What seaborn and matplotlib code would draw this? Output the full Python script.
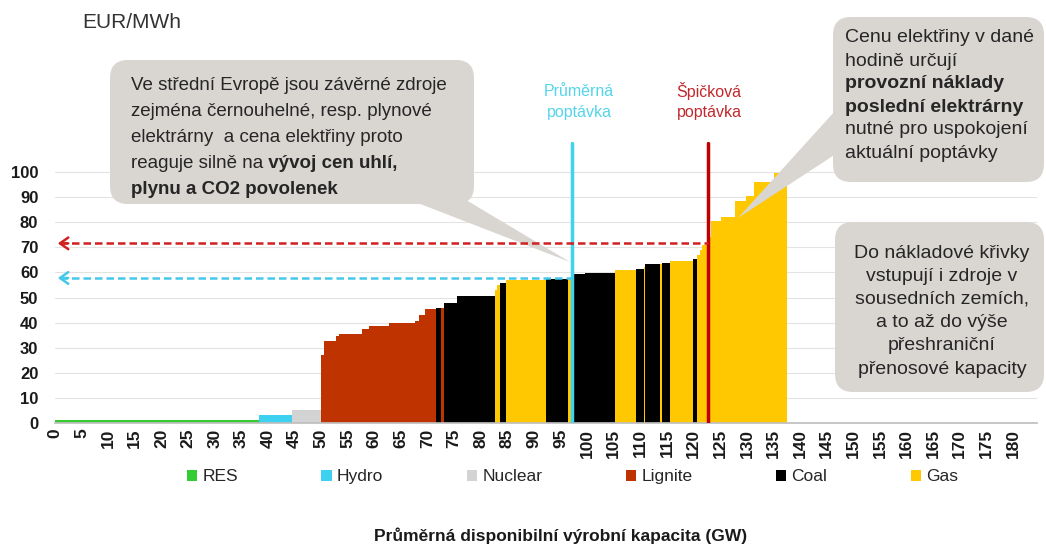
import numpy as np
import pandas as pd
import matplotlib
matplotlib.use("Agg")
import matplotlib.pyplot as plt
import seaborn as sns
from matplotlib import font_manager
from matplotlib.patches import FancyBboxPatch, Polygon
from matplotlib.transforms import Affine2D

# merit order blocks, GW end of block / EUR/MWh
fuels = ["RES", "Hydro", "Nuclear", "Lignite", "Coal", "Gas"]
fuel_colors = ["#33cc33", "#3dd0f0", "#d3d3d3", "#bf3300", "#000000", "#ffc800"]

block_fuel = ["RES", "Hydro", "Nuclear",
              "Lignite", "Lignite", "Lignite", "Lignite", "Lignite", "Lignite",
              "Lignite", "Lignite", "Lignite", "Lignite",
              "Coal", "Lignite", "Coal", "Coal", "Gas", "Gas", "Coal",
              "Gas", "Coal", "Gas", "Coal", "Coal",
              "Gas", "Coal", "Gas", "Coal", "Gas", "Coal", "Gas", "Coal",
              "Gas", "Gas", "Gas", "Gas", "Gas", "Gas", "Gas", "Gas", "Gas", "Gas"]
block_end = [38.3, 44.6, 50.0,
             50.6, 52.8, 53.4, 57.7, 59.0, 62.7,
             67.7, 68.4, 69.6, 71.5,
             72.6, 73.0, 75.5, 82.7, 83.1, 83.6, 84.8,
             92.3, 96.4, 96.9, 99.5, 105.3,
             109.2, 110.6, 110.9, 113.7, 114.0, 115.5, 119.9, 120.7,
             121.1, 121.5, 122.5, 123.3, 125.2, 127.7, 129.9, 131.4, 135.1, 137.6]
block_price = [1.0, 3.0, 5.0,
               27.0, 32.5, 34.5, 35.5, 37.5, 38.5,
               40.0, 40.8, 43.0, 45.3,
               45.7, 45.8, 47.8, 50.6, 53.0, 55.0, 55.7,
               57.0, 57.3, 57.8, 59.2, 59.8,
               61.0, 61.5, 62.3, 63.2, 63.4, 63.6, 64.5, 65.2,
               67.0, 69.0, 71.0, 74.0, 80.5, 82.0, 88.5, 90.5, 96.0, 99.5]

avg_demand, peak_demand = 97.2, 122.7
avg_price, peak_price = 57.8, 71.6

x_ticks = list(range(0, 181, 5))
y_ticks = list(range(0, 101, 10))

edges = [0.0] + block_end
df = pd.DataFrame({"mid": [(a + b) / 2 for a, b in zip(edges[:-1], edges[1:])],
                   "price": block_price,
                   "fuel": block_fuel})

sns.set_theme(style="white")
plt.rcParams["font.family"] = ["Liberation Sans", "DejaVu Sans"]
avail = {f.name for f in font_manager.fontManager.ttflist}
has_narrow = "Liberation Sans Narrow" in avail
NARROW = ["Liberation Sans Narrow", "Liberation Sans"] if has_narrow else ["Liberation Sans"]

W, H = 1046, 548
fig = plt.figure(figsize=(W / 100, H / 100), dpi=100)
ax = fig.add_axes([55 / W, 125 / H, 982 / W, 281 / H])
# pixel coords, origin top-left
T = Affine2D().scale(1, -1).translate(0, H)

sns.histplot(df, x="mid", weights="price", bins=edges, hue="fuel", hue_order=fuels,
             palette=dict(zip(fuels, fuel_colors)), multiple="layer",
             alpha=1, linewidth=0, ax=ax)

ax.set_xlim(0, 184.5)
ax.set_ylim(0, 112)
ax.set_xticks(x_ticks)
ax.set_xticklabels(x_ticks, rotation=90, fontweight="bold", fontsize=12.5, color="#1a1a1a")
ax.set_yticks(y_ticks)
ax.set_yticklabels(y_ticks, fontweight="bold", fontsize=12, color="#1a1a1a")
ax.tick_params(axis="x", length=0, pad=4)
ax.tick_params(axis="y", length=0, pad=12)
ax.set_xlabel("")
ax.set_ylabel("")
ax.yaxis.grid(True, color="#e3e3e3", lw=0.8)
ax.set_axisbelow(True)
for s in ["left", "top", "right"]:
    ax.spines[s].set_visible(False)
ax.spines["bottom"].set_color("#bfbfbf")

# demand lines and price arrows
ax.plot([avg_demand] * 2, [0, 111.5], color="#3fd3ef", lw=2.5, zorder=6)
ax.plot([peak_demand] * 2, [0, 111.5], color="#c00000", lw=2.5, zorder=6)
for xd, yp, c in [(avg_demand, avg_price, "#45c8ea"), (peak_demand, peak_price, "#d02020")]:
    ax.plot([1.0, xd], [yp, yp], color=c, lw=1.8, ls=(0, (3, 1.6)), zorder=6)
    ax.annotate("", xy=(0, yp), xytext=(3, yp),
                arrowprops=dict(arrowstyle="->,head_length=0.5,head_width=0.35", color=c, lw=1.8),
                annotation_clip=False, zorder=6)

sns.move_legend(ax, "center", bbox_to_anchor=(0.527, -0.192), ncol=6, title=None,
                frameon=False, fontsize=12.5, columnspacing=4.8, handlelength=0.6,
                handleheight=0.6, handletextpad=0.3)

# callouts
box_color = "#d9d6d2"
def box(x0, y0, x1, y1):
    ax.add_patch(FancyBboxPatch((x0, y0), x1 - x0, y1 - y0,
                                boxstyle="round,pad=0,rounding_size=18", transform=T,
                                fc=box_color, ec="none", clip_on=False, zorder=5))

def wedge(pts):
    ax.add_patch(Polygon(pts, closed=True, transform=T, fc=box_color, ec="none",
                         clip_on=False, zorder=5))

box(110, 60, 474, 204)
wedge([(410, 200), (466, 200), (570, 262)])
box(833, 17, 1044, 182)
wedge([(845, 100), (845, 148), (738, 218)])
box(835, 222, 1044, 392)

txt_c = "#262626"
lsize = 15.5 if has_narrow else 13.5
left_lines = ["Ve střední Evropě jsou závěrné zdroje",
              "zejména černouhelné, resp. plynové",
              "elektrárny  a cena elektřiny proto"]
ly = [86, 112, 138, 164, 189]
for s, y in zip(left_lines, ly):
    ax.text(131, y, s, transform=T, va="center", ha="left", fontsize=lsize,
            family=NARROW, color=txt_c, zorder=7)
t = ax.text(131, ly[3], "reaguje silně na", transform=T, va="center", ha="left",
            fontsize=lsize, family=NARROW, color=txt_c, zorder=7)
r = fig.canvas.get_renderer()
w = t.get_window_extent(renderer=r).width
ax.text(131 + w, ly[3], " vývoj cen uhlí,", transform=T, va="center", ha="left",
        fontsize=lsize, family=NARROW, fontweight="bold", color=txt_c, zorder=7)
ax.text(131, ly[4], "plynu a CO2 povolenek", transform=T, va="center", ha="left",
        fontsize=lsize, family=NARROW, fontweight="bold", color=txt_c, zorder=7)

right_lines = [("Cenu elektřiny v dané", "normal"), ("hodině určují", "normal"),
               ("provozní náklady", "bold"), ("poslední elektrárny", "bold"),
               ("nutné pro uspokojení", "normal"), ("aktuální poptávky", "normal")]
for i, (s, fw) in enumerate(right_lines):
    ax.text(845, 38 + 23 * i, s, transform=T, va="center", ha="left", fontsize=14,
            fontweight=fw, color=txt_c, zorder=7)

cross_lines = ["Do nákladové křivky", "vstupují i zdroje v", "sousedních zemích,",
               "a to až do výše", "přeshraniční", "přenosové kapacity"]
for i, s in enumerate(cross_lines):
    ax.text(942, 253 + 23.2 * i, s, transform=T, va="center", ha="center", fontsize=14,
            color=txt_c, zorder=7)

ax.text(82, 23, "EUR/MWh", transform=T, va="center", ha="left",
        fontsize=17 if has_narrow else 15, family=NARROW, color="#333333")
for i, s in enumerate(["Průměrná", "poptávka"]):
    ax.text(579, 91 + 22 * i, s, transform=T, va="center", ha="center", fontsize=11.5,
            color="#55d5ea")
for i, s in enumerate(["Špičková", "poptávka"]):
    ax.text(709, 91 + 22 * i, s, transform=T, va="center", ha="center", fontsize=11.5,
            color="#c0282d")

fig.text(561 / W, 1 - 536 / H, "Průměrná disponibilní výrobní kapacita (GW)",
         ha="center", va="center", fontweight="bold", fontsize=12.5, color="#1a1a1a")

fig.savefig("out.png", dpi=100)
